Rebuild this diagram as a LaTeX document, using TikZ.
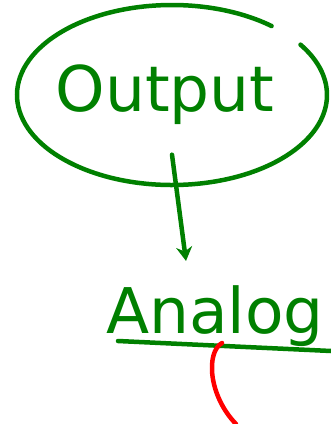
\documentclass[tikz,border=0pt]{standalone}
\usepackage{fontspec}
\setmainfont{DejaVu Sans}
\usepackage{xcolor}
\usepackage{tikz}
\usetikzlibrary{shapes.geometric, arrows.meta, positioning, calc}

\definecolor{inkgreen}{RGB}{0,128,0}
\definecolor{inkred}{RGB}{255,0,0}

\begin{document}
\begin{tikzpicture}[
    x=1pt, y=-1pt,
    word/.style={text=inkgreen, font=\fontsize{63}{66}\selectfont, inner sep=2pt},
    ring/.style={ellipse, minimum width=310pt, minimum height=181pt, inner sep=0pt},
    stroke/.style={draw=inkgreen, line width=4.5pt, line cap=round},
    arrow/.style={stroke, -{Stealth[length=14pt, width=16pt]}}
]
\useasboundingbox (0,0) rectangle (331,424);

\node[ring] (output) at (172,95) {};
\node[word, anchor=base] (outtext) at (165,111) {Output};
\node[word, anchor=base] (analog) at (215,333) {Analog};

% ellipse with the small gap at the top right
\draw[stroke] ($(output.center)+(50:155pt and 90pt)$) arc[start angle=50, end angle=394, x radius=155pt, y radius=90pt];

\draw[arrow] ([yshift=31pt]output.south) -- ([xshift=-29pt, yshift=22pt]analog.north);

% underline and red mark
\coordinate (lineend) at (331,351);
\draw[stroke] ([xshift=-97pt, yshift=-8pt]analog.base) -- (lineend);
\coordinate (markend) at (236,424);
\draw[draw=inkred, line width=4.5pt, line cap=round] ([xshift=7pt, yshift=-10pt]analog.base) .. controls (206,352) and (208,395) .. (markend);

\end{tikzpicture}
\end{document}
